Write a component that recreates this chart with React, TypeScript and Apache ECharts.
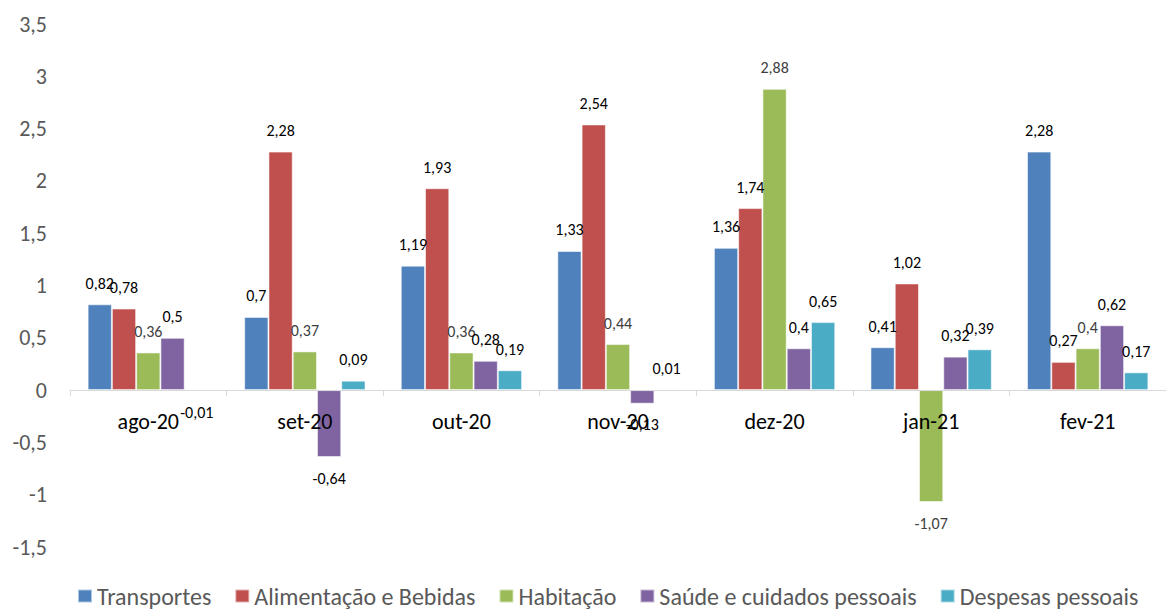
import React, { useEffect, useRef } from "react";
import * as echarts from "echarts";

const categories = ["ago-20", "set-20", "out-20", "nov-20", "dez-20", "jan-21", "fev-21"];

const transportes = [0.82, 0.7, 1.19, 1.33, 1.36, 0.41, 2.28];
const alimentacao = [0.78, 2.28, 1.93, 2.54, 1.74, 1.02, 0.27];
const habitacao = [0.36, 0.37, 0.36, 0.44, 2.88, -1.07, 0.4];
const saude = [0.5, -0.64, 0.28, -0.13, 0.4, 0.32, 0.62];
const despesas = [-0.01, 0.09, 0.19, 0.01, 0.65, 0.39, 0.17];

const seriesNames = [
  "Transportes",
  "Alimentação e Bebidas",
  "Habitação",
  "Saúde e cuidados pessoais",
  "Despesas pessoais",
];
const seriesValues = [transportes, alimentacao, habitacao, saude, despesas];
const seriesColors = ["#4F81BD", "#C0504D", "#9BBB59", "#8064A2", "#4BACC6"];
const labelColors = ["#000000", "#000000", "#404040", "#000000", "#000000"];

const FONT = "Carlito, Lato, 'Open Sans', sans-serif";
const fmt = (v: number) => String(v).replace(".", ",");

export default function App() {
  const ref = useRef<HTMLDivElement>(null);

  useEffect(() => {
    if (!ref.current) return;
    const chart = echarts.init(ref.current, null, { renderer: "svg" });

    const series = seriesNames.map((name, i) => ({
      name,
      type: "bar",
      barGap: "0%",
      barCategoryGap: "22.5%",
      itemStyle: {
        color: seriesColors[i],
        borderColor: "rgba(255,255,255,0.55)",
        borderWidth: 1,
      },
      label: {
        show: true,
        distance: 13,
        fontFamily: FONT,
        fontSize: 16,
        fontWeight: "normal",
        color: labelColors[i],
        formatter: (p: any) => fmt(p.value),
      },
      data: seriesValues[i].map((v) => ({
        value: v,
        label: { position: v < 0 ? "bottom" : "top" },
      })),
    }));

    chart.setOption({
      animation: false,
      backgroundColor: "#ffffff",
      textStyle: { fontFamily: FONT },
      grid: { left: 70, top: 24, width: 1103, height: 523 },
      legend: {
        left: 77,
        top: 584,
        padding: 0,
        icon: "rect",
        itemWidth: 14,
        itemHeight: 13,
        itemGap: 23,
        textStyle: { fontFamily: FONT, fontSize: 24, fontWeight: "normal", color: "#595959" },
        data: seriesNames,
      },
      xAxis: {
        type: "category",
        data: categories,
        z: 5,
        axisLine: { onZero: true, lineStyle: { color: "#D9D9D9", width: 1 } },
        axisTick: { show: true, length: 6, lineStyle: { color: "#D9D9D9" } },
        // labels sit just under the zero line rather than at the bottom of the grid
        axisLabel: {
          fontFamily: FONT,
          fontSize: 22,
          fontWeight: "normal",
          color: "#000000",
          margin: -137,
        },
        splitLine: { show: false },
      },
      yAxis: {
        type: "value",
        min: -1.5,
        max: 3.5,
        interval: 0.5,
        axisLine: { show: false },
        axisTick: { show: false },
        splitLine: { show: false },
        axisLabel: {
          fontFamily: FONT,
          fontSize: 22,
          fontWeight: "normal",
          color: "#595959",
          margin: 23,
          formatter: (v: number) => fmt(v),
        },
      },
      series,
    });

    return () => chart.dispose();
  }, []);

  return (
    <div
      ref={ref}
      style={{ position: "fixed", left: 0, top: 0, width: 1166, height: 609, background: "#fff" }}
    />
  );
}
